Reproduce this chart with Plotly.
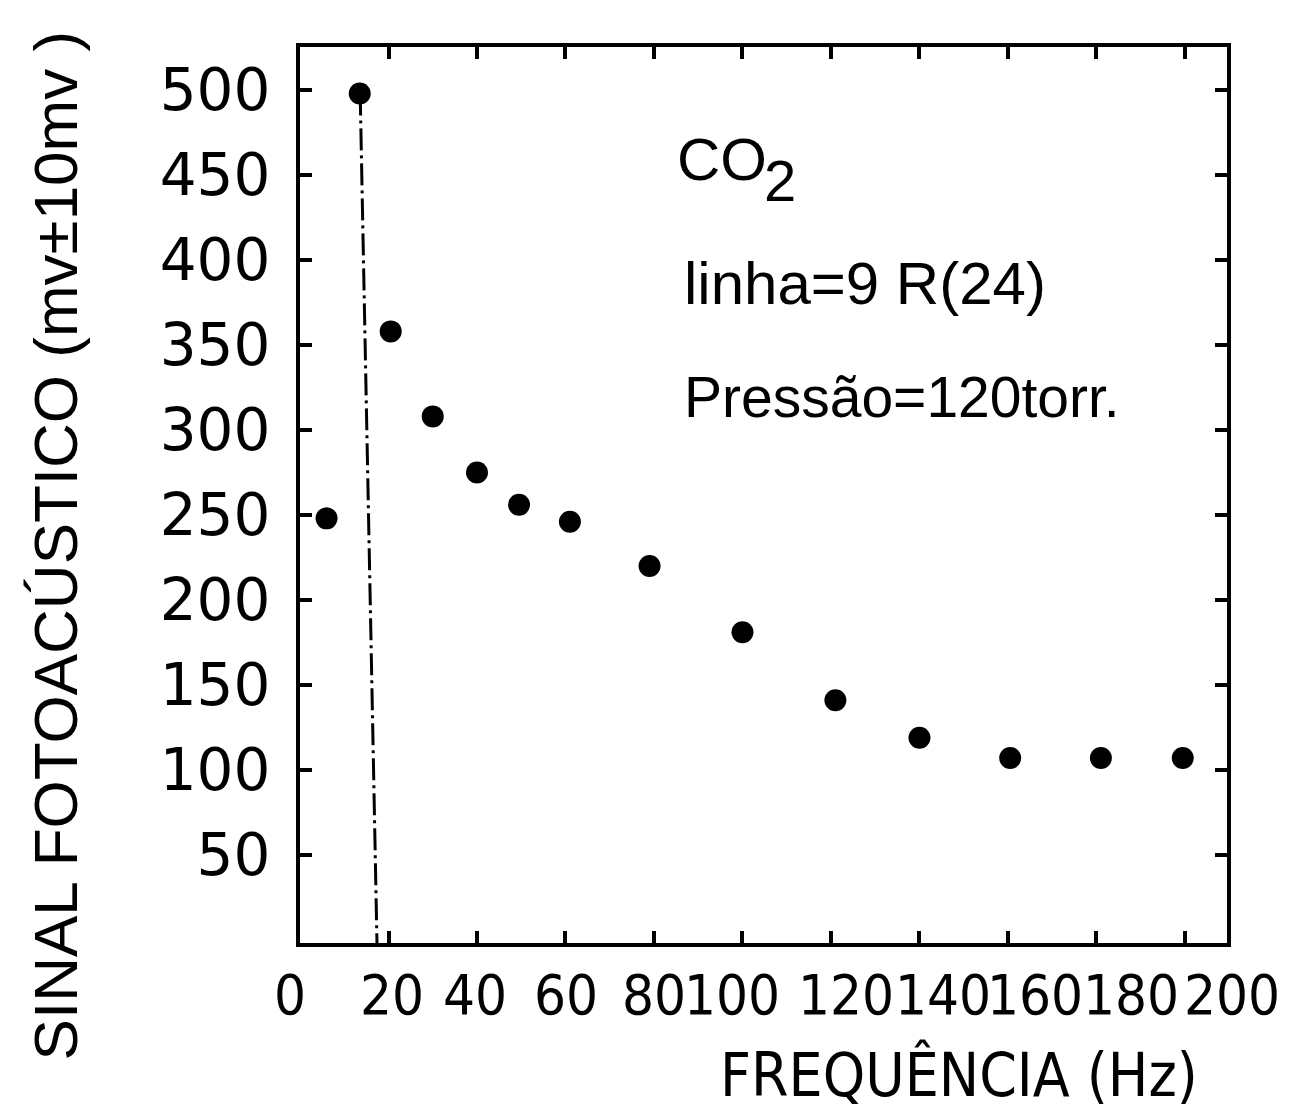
import plotly.graph_objects as go

# Photoacoustic signal of CO2 versus chopping frequency
freq_hz = [6, 13.5, 20.5, 30, 40, 49.5, 61, 79, 100, 121, 140, 160.5, 181, 199.5]
signal_mv = [248, 498, 358, 308, 275, 256, 246, 220, 181, 141, 119, 107, 107, 107]

# Resonance marker line (dash-dot), drawn from the peak down to the axis
res_line_f = [13.6, 17.4]
res_line_v = [498, -2]

y_ticks = [50, 100, 150, 200, 250, 300, 350, 400, 450, 500]
x_ticks = [20, 40, 60, 80, 100, 120, 140, 160, 180, 200]
x_tick_text = ["0", "20", "40", "60", "80", "100", "120", "140", "160", "180", "200"]
x_tick_label_at = [-2.3, 20.8, 39.5, 60.2, 80, 97.6, 123.5, 145.3, 166, 187.8, 210.7]

y_title = "SINAL FOTOACÚSTICO (mv±10mv )"
x_title = "FREQUÊNCIA (Hz)"

X_MAX = 209.5

NARROW = "Liberation Sans Narrow, DejaVu Sans Condensed, Arial Narrow, Liberation Sans, sans-serif"
REG = "Liberation Sans, Arial, sans-serif"

fig = go.Figure()

fig.add_trace(go.Scatter(
    x=res_line_f, y=res_line_v, mode="lines",
    line=dict(color="black", width=3, dash="22px,5px,3px,5px"),
    hoverinfo="skip", showlegend=False,
))

fig.add_trace(go.Scatter(
    x=freq_hz, y=signal_mv, mode="markers",
    marker=dict(color="black", size=22, line=dict(width=0)),
    showlegend=False,
))

axis_common = dict(
    showgrid=False, zeroline=False, showline=True, linecolor="black",
    linewidth=4, ticks="inside", ticklen=12, tickwidth=4, tickcolor="black",
    mirror="ticks",
)

fig.update_xaxes(range=[0, X_MAX], tickvals=x_ticks, showticklabels=False, **axis_common)
fig.update_yaxes(
    range=[-1.8, 525.3], tickvals=y_ticks, ticktext=[str(v) for v in y_ticks],
    tickfont=dict(family="DejaVu Sans, sans-serif", size=58, color="black"),
    ticklabelstandoff=14, **axis_common,
)

# Frequency tick labels, placed along the axis in paper units
annotations = []
for label, pos in zip(x_tick_text, x_tick_label_at):
    annotations.append(dict(
        x=pos / X_MAX, xref="paper", y=-0.058, yref="paper", text=label, showarrow=False,
        xanchor="center", yanchor="middle",
        font=dict(family=NARROW, size=56, color="black"),
    ))

# In-plot legend text
annotations += [
    dict(x=0.4045, y=0.875, xref="paper", yref="paper", text="CO", showarrow=False,
         xanchor="left", yanchor="middle", font=dict(family=REG, size=60, color="black")),
    dict(x=0.4985, y=0.851, xref="paper", yref="paper", text="2", showarrow=False,
         xanchor="left", yanchor="middle", font=dict(family=REG, size=58, color="black")),
    dict(x=0.4126, y=0.7355, xref="paper", yref="paper", text="linha=9 R(24)", showarrow=False,
         xanchor="left", yanchor="middle", font=dict(family=REG, size=60, color="black")),
    dict(x=0.4126, y=0.609, xref="paper", yref="paper", text="Pressão=120torr.", showarrow=False,
         xanchor="left", yanchor="middle", font=dict(family=REG, size=57, color="black")),
    # axis titles
    dict(x=-0.264, y=0.444, xref="paper", yref="paper", text=y_title, showarrow=False,
         textangle=-90, xanchor="center", yanchor="middle",
         font=dict(family=REG, size=62, color="black")),
    dict(x=0.711, y=-0.147, xref="paper", yref="paper", text=x_title, showarrow=False,
         xanchor="center", yanchor="middle",
         font=dict(family=NARROW, size=60, color="black")),
]

fig.update_layout(
    width=1295, height=1113,
    margin=dict(l=300, r=68, t=47, b=170),
    plot_bgcolor="white", paper_bgcolor="white",
    annotations=annotations,
    showlegend=False,
)

fig.write_html("out.html")
